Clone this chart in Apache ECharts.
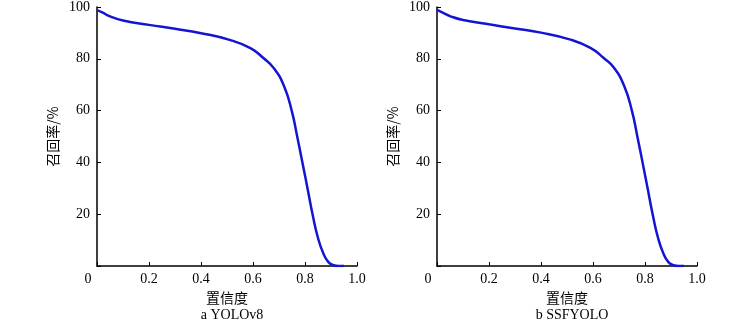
<!DOCTYPE html>
<html>
<head>
	<meta charset="utf-8" />
	<title>召回率-置信度</title>
	<script src="https://cdn.jsdelivr.net/npm/echarts@6/dist/echarts.min.js"></script>
	<style>
		body { margin: 0; background: #fff; }
		#main { width: 756px; height: 320px; }
	</style>
</head>
<body>
	<div id="main"></div>
</body>
<script type="text/javascript">
	// 置信度 / 召回率(%) 读自原图
	var confA = [0, 0.02, 0.05, 0.1, 0.2, 0.3, 0.4, 0.51, 0.59, 0.64, 0.68, 0.72, 0.75, 0.77, 0.79, 0.81, 0.83, 0.85, 0.87, 0.89, 0.91, 0.93, 0.95];
	var recallA = [98.8, 97.9, 96.4, 94.8, 93.1, 91.6, 89.9, 87.3, 84.1, 80.3, 76.4, 69.3, 59.5, 50.0, 40.0, 29.8, 19.5, 10.8, 5.0, 1.5, 0.3, 0, 0];
	var confB = [0, 0.02, 0.05, 0.1, 0.2, 0.3, 0.4, 0.51, 0.59, 0.64, 0.68, 0.72, 0.75, 0.77, 0.79, 0.81, 0.83, 0.85, 0.87, 0.89, 0.91, 0.93, 0.95];
	var recallB = [98.9, 97.9, 96.5, 95.0, 93.3, 91.7, 90.1, 87.5, 84.2, 80.4, 76.6, 69.5, 59.8, 50.3, 40.3, 30.0, 19.7, 10.9, 5.0, 1.5, 0.3, 0, 0];
	var xTicks = [0, 0.2, 0.4, 0.6, 0.8, 1.0];
	var captions = ['a YOLOv8', 'b SSFYOLO'];

	var myChart = echarts.init(document.getElementById('main'));
	var serif = 'Liberation Serif';

	function makeX(idx) {
		return {
			type: 'value', gridIndex: idx, min: 0, max: 1, interval: 0.2,
			name: '置信度', nameLocation: 'middle', nameGap: 25,
			nameTextStyle: { color: '#000', fontSize: 14, fontFamily: 'Noto Sans CJK SC' },
			axisLine: { lineStyle: { color: '#000', width: 1.5 } },
			axisTick: { inside: true, length: 4, lineStyle: { color: '#000' } },
			splitLine: { show: false },
			axisLabel: {
				color: '#000', fontSize: 14, fontFamily: serif, margin: 6,
				formatter: function (v) { return v === 0 ? '{z|0}' : v.toFixed(1); },
				rich: { z: { color: '#000', fontSize: 14, fontFamily: serif, padding: [0, 18, 0, 0] } }
			}
		};
	}
	function makeY(idx) {
		return {
			type: 'value', gridIndex: idx, min: 0, max: 100, interval: 20,
			name: '召回率/%', nameLocation: 'middle', nameGap: 37,
			nameTextStyle: { color: '#000', fontSize: 14, fontFamily: 'Noto Sans CJK SC' },
			axisLine: { show: true, lineStyle: { color: '#000', width: 1.5 } },
			axisTick: { show: true, inside: true, length: 4, lineStyle: { color: '#000' } },
			splitLine: { show: false },
			axisLabel: {
				color: '#000', fontSize: 14, fontFamily: serif, margin: 7,
				formatter: function (v) { return v === 0 ? '' : v; }
			}
		};
	}
	function pairs(xs, ys) {
		return xs.map(function (x, i) { return [x, ys[i]]; });
	}

	var option = {
		animation: false,
		title: [
			{ text: captions[0], left: 227, top: 303, textAlign: 'center',
				textStyle: { color: '#000', fontSize: 14, fontWeight: 'normal', fontFamily: serif } },
			{ text: captions[1], left: 567, top: 303, textAlign: 'center',
				textStyle: { color: '#000', fontSize: 14, fontWeight: 'normal', fontFamily: serif } }
		],
		grid: [
			{ left: 97, right: 399, top: 7, bottom: 54 },
			{ left: 437, right: 59, top: 7, bottom: 54 }
		],
		xAxis: [makeX(0), makeX(1)],
		yAxis: [makeY(0), makeY(1)],
		series: [
			{ type: 'line', xAxisIndex: 0, yAxisIndex: 0, data: pairs(confA, recallA), smooth: 0.5,
				showSymbol: false, lineStyle: { color: '#1414d2', width: 2.5 } },
			{ type: 'line', xAxisIndex: 1, yAxisIndex: 1, data: pairs(confB, recallB), smooth: 0.5,
				showSymbol: false, lineStyle: { color: '#1414d2', width: 2.5 } }
		]
	};
	myChart.setOption(option);
</script>
</html>
